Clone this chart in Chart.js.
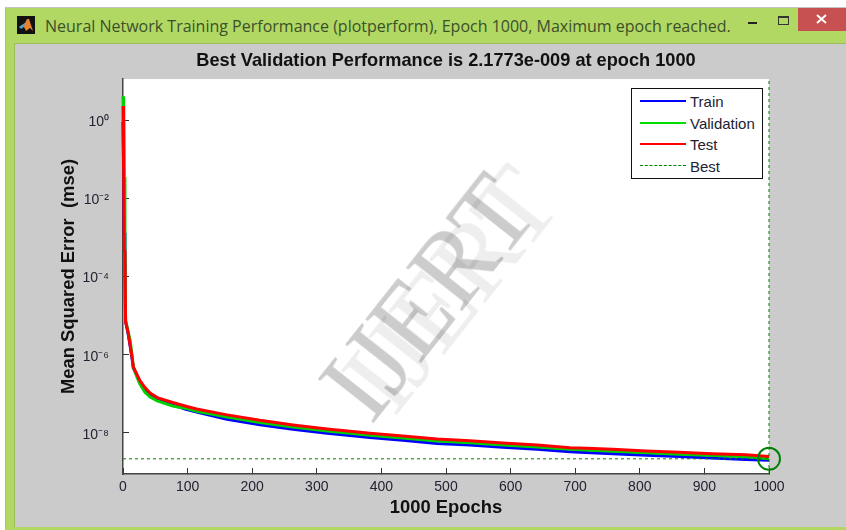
<!DOCTYPE html>
<html>
<head>
<meta charset="utf-8">
<title>plotperform</title>
<script src="https://cdn.jsdelivr.net/npm/chart.js@4"></script>
<style>
  html, body { margin: 0; padding: 0; background: #fff; }
  #page { position: relative; width: 846px; height: 530px; overflow: hidden; }
  #frame { position: absolute; left: 5px; top: 7px; right: 0; bottom: 0; background: #b0d862; border-top: 1px solid #c4c4c4; border-left: 1px solid #a8cc60; }
  #inner { position: absolute; left: 14px; top: 43px; right: 0; bottom: 3px; background: #cbcbcb; border-top: 1px solid #9dbd58; border-left: 1px solid #9dbd58; }
  #winTitle { position: absolute; left: 45px; top: 15px; font: 16px "Open Sans", sans-serif; color: #3d4f2c; white-space: nowrap; }
  #icon { position: absolute; left: 17px; top: 16px; }
  #winButtons { position: absolute; left: 0; top: 0; }
  #close { position: absolute; left: 798px; top: 8px; width: 48px; height: 23px; background: #c75050; }
  canvas { position: absolute; left: 0; top: 0; }
  #legend { position: absolute; left: 631px; top: 88px; width: 130px; height: 89px; background: #fff; border: 1px solid #111; font: 15px "Liberation Sans", Arial, sans-serif; color: #222233; }
  #legend div { position: absolute; left: 58px; white-space: nowrap; }
  #legend i { position: absolute; left: 8px; width: 46px; }
  .mark { position: absolute; left: 0; top: 0; font: 107px "Liberation Serif", serif; white-space: nowrap; transform-origin: 0 0; pointer-events: none; }
</style>
</head>
<body>
<div id="page">
  <div id="frame"></div>
  <div id="inner"></div>
  <svg id="icon" width="18" height="18">
    <rect width="18" height="18" fill="#111"/>
    <path d="M2 11 L8 7 L10 3 L12 3 L16 15 L13 12 L9 15 L7 11 Z" fill="#e8822a"/>
    <path d="M2 11 L8 7 L7 11 L4 13 Z" fill="#4aa0d0"/>
  </svg>
  <div id="winTitle">Neural Network Training Performance (plotperform), Epoch 1000, Maximum epoch reached.</div>
  <svg id="winButtons" width="846" height="40">
    <rect x="748" y="22" width="9" height="2" fill="#222"/>
    <rect x="778.5" y="16.5" width="10" height="8" fill="none" stroke="#333"/>
    <rect x="778" y="16" width="11" height="2" fill="#333"/>
  </svg>
  <div id="close"><svg width="48" height="23"><path d="M19 7 L28 15 M28 7 L19 15" stroke="#fff" stroke-width="2"/></svg></div>
  <canvas id="perfChart" width="846" height="530"></canvas>
  <div class="mark" style="color:#eeeeee; transform: translate(318px, 358px) rotate(-51.7deg); mix-blend-mode: multiply;">IJERT</div>
  <div class="mark" style="color:#cccccc; transform: translate(295px, 366px) rotate(-51.7deg); mix-blend-mode: multiply;">IJERT</div>
  <div id="legend">
    <i style="top:11px; border-top:2px solid #0000ff;"></i><div style="top:4px;">Train</div>
    <i style="top:33px; border-top:2px solid #00e000;"></i><div style="top:26px;">Validation</div>
    <i style="top:54px; border-top:2px solid #ff0000;"></i><div style="top:47px;">Test</div>
    <i style="top:76px; border-top:1px dashed #007f00;"></i><div style="top:69px;">Best</div>
  </div>
</div>

<script>
const epochs = [0, 1, 2, 3, 4, 6, 8, 11, 14, 16, 22, 26, 34, 42, 53, 77, 96, 114, 161, 212, 263, 316, 367, 382, 433, 486, 537, 588, 641, 692, 707, 758, 810, 861, 912, 964, 1000];

const trainPerf = [0.9, 0.04, 1.3e-3, 4.8e-4, 7e-6, 5e-6, 3.4e-6, 1.7e-6, 8e-7, 4.6e-7, 2.9e-7, 2.1e-7, 1.26e-7, 9.3e-8, 7.2e-8, 5.2e-8, 4.1e-8, 3.4e-8, 2.25e-8, 1.62e-8, 1.24e-8, 9.8e-9, 8.1e-9, 7.6e-9, 6.5e-9, 5.4e-9, 4.9e-9, 4.3e-9, 3.8e-9, 3.3e-9, 3.2e-9, 2.95e-9, 2.7e-9, 2.5e-9, 2.3e-9, 2.1e-9, 2.0e-9];
const valPerf = [4.1, 1.0, 0.035, 5e-4, 7.5e-6, 5.5e-6, 3.8e-6, 2.4e-6, 9.5e-7, 4.8e-7, 2.6e-7, 1.8e-7, 1.1e-7, 8.3e-8, 6.6e-8, 4.9e-8, 4.3e-8, 3.6e-8, 2.55e-8, 1.85e-8, 1.42e-8, 1.12e-8, 9.2e-9, 8.7e-9, 7.4e-9, 6.2e-9, 5.6e-9, 4.9e-9, 4.35e-9, 3.8e-9, 3.7e-9, 3.4e-9, 3.1e-9, 2.85e-9, 2.65e-9, 2.45e-9, 2.1773e-9];
const testPerf = [2.3, 0.047, 4.8e-4, 4.3e-4, 6.9e-6, 5.1e-6, 3.6e-6, 1.8e-6, 8.8e-7, 4.9e-7, 3.0e-7, 2.2e-7, 1.45e-7, 1.05e-7, 8.0e-8, 6.0e-8, 4.9e-8, 4.1e-8, 2.9e-8, 2.1e-8, 1.6e-8, 1.26e-8, 1.04e-8, 9.8e-9, 8.3e-9, 7.0e-9, 6.3e-9, 5.5e-9, 4.9e-9, 4.2e-9, 4.1e-9, 3.8e-9, 3.45e-9, 3.2e-9, 2.95e-9, 2.75e-9, 2.5e-9];

const bestEpoch = 1000;
const bestPerf = 2.1773e-9;

const xMax = 1000;
const yMin = 8.9e-10;
const yMax = 11.3;
const xTickValues = [0, 100, 200, 300, 400, 500, 600, 700, 800, 900, 1000];
const yTickValues = [1, 1e-2, 1e-4, 1e-6, 1e-8];
const yTickLabels = ['10⁰', '10⁻²', '10⁻⁴', '10⁻⁶', '10⁻⁸'];

const toPoints = ys => epochs.map((e, i) => ({ x: e, y: ys[i] }));

// white plot background, the rest of the window is html behind the canvas
const plotBackground = {
  id: 'plotBackground',
  beforeDraw(chart) {
    const a = chart.chartArea;
    chart.ctx.fillStyle = '#fff';
    chart.ctx.fillRect(a.left, a.top, a.width, a.height);
  }
};

const lineStyle = { pointRadius: 0, borderWidth: 3, tension: 0, clip: false };
const bestColor = '#007f00';
const textColor = '#222233';

new Chart(document.getElementById('perfChart'), {
  type: 'line',
  data: {
    datasets: [
      { label: 'Train', data: toPoints(trainPerf), borderColor: '#0000ff', order: 5, ...lineStyle },
      { label: 'Validation', data: toPoints(valPerf), borderColor: '#00d000', order: 4, ...lineStyle },
      { label: 'Test', data: toPoints(testPerf), borderColor: '#ff0000', order: 3, ...lineStyle },
      { label: 'Best', data: [{ x: 0, y: bestPerf }, { x: xMax, y: bestPerf }], borderColor: bestColor, borderWidth: 1, borderDash: [3, 3], pointRadius: 0, order: 2 },
      { label: 'Best epoch', data: [{ x: bestEpoch, y: yMin }, { x: bestEpoch, y: yMax }], borderColor: bestColor, borderWidth: 1, borderDash: [3, 3], pointRadius: 0, order: 2, clip: false },
      { label: 'Best point', data: [{ x: bestEpoch, y: bestPerf }], borderColor: bestColor, backgroundColor: 'transparent', pointRadius: 11, pointBorderWidth: 2, showLine: false, order: 1, clip: false }
    ]
  },
  plugins: [plotBackground],
  options: {
    responsive: false,
    animation: false,
    layout: { padding: { left: 0, right: 77, top: 0, bottom: 0 } },
    plugins: {
      legend: { display: false },
      tooltip: { enabled: false },
      title: {
        display: true,
        fullSize: false,
        text: 'Best Validation Performance is 2.1773e-009 at epoch 1000',
        color: '#111',
        font: { family: '"Liberation Sans", Arial, sans-serif', size: 18.2, weight: 'bold', lineHeight: 1.2 },
        padding: { top: 50.5, bottom: 6.7 }
      }
    },
    scales: {
      x: {
        type: 'linear',
        min: 0,
        max: xMax,
        afterFit: s => { s.height = 56; },
        afterBuildTicks: s => { s.ticks = xTickValues.map(v => ({ value: v })); },
        border: { color: '#444', width: 1.5 },
        grid: { drawOnChartArea: false, tickLength: -6, tickColor: '#333' },
        ticks: { color: textColor, maxRotation: 0, autoSkip: false, padding: 11, font: { family: '"Liberation Sans", Arial, sans-serif', size: 14 }, callback: v => String(v) },
        title: { display: true, text: '1000 Epochs', color: '#111', font: { family: '"Liberation Sans", Arial, sans-serif', size: 18.4, weight: 'bold', lineHeight: 1.2 }, padding: { top: 0, bottom: 11 } }
      },
      y: {
        type: 'logarithmic',
        min: yMin,
        max: yMax,
        afterFit: s => { s.width = 123; },
        afterBuildTicks: s => { s.ticks = yTickValues.map(v => ({ value: v })); },
        border: { color: '#444', width: 1.5 },
        grid: { drawOnChartArea: false, tickLength: -6, tickColor: '#333' },
        ticks: {
          color: textColor,
          autoSkip: false,
          padding: 20,
          labelOffset: 2,
          font: { family: '"Liberation Sans", Arial, sans-serif', size: 14 },
          callback: v => yTickLabels[yTickValues.indexOf(v)]
        },
        title: { display: true, text: 'Mean Squared Error  (mse)', color: '#111', font: { family: '"Liberation Sans", Arial, sans-serif', size: 18.4, weight: 'bold', lineHeight: 1.2 }, padding: { top: 58, bottom: 0 } }
      }
    }
  }
});
</script>
</body>
</html>
